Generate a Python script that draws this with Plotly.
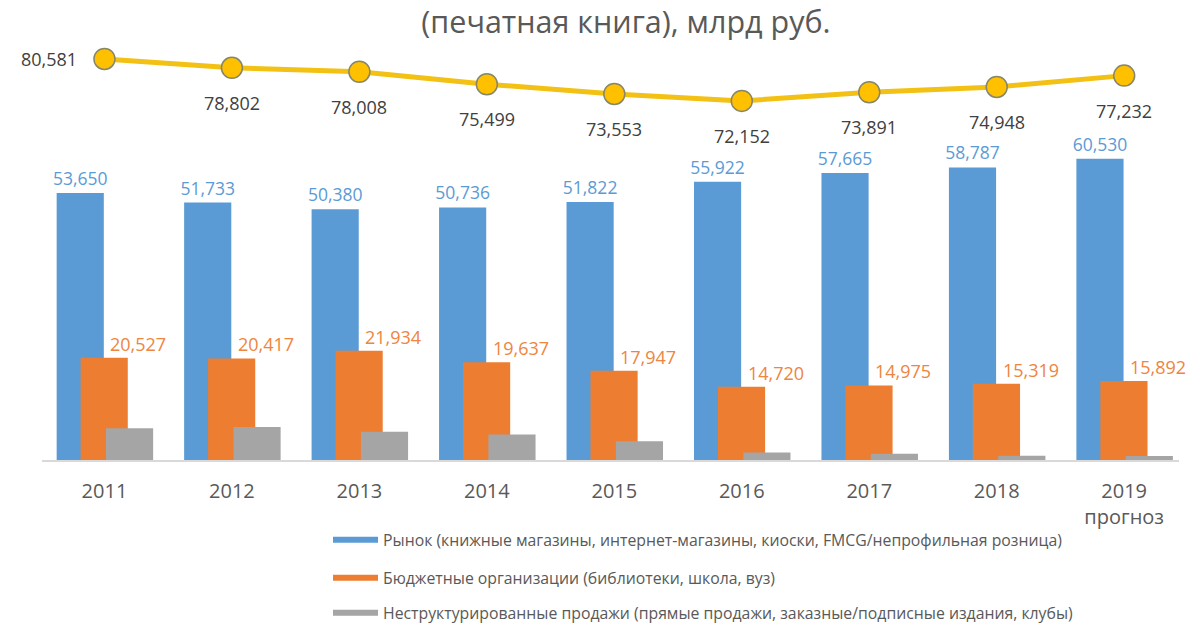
import plotly.graph_objects as go

# ---- data ----
years = ['2011', '2012', '2013', '2014', '2015', '2016', '2017', '2018', '2019']
tick_labels = ['2011', '2012', '2013', '2014', '2015', '2016', '2017', '2018', '2019<br>прогноз']
market = [53.650, 51.733, 50.380, 50.736, 51.822, 55.922, 57.665, 58.787, 60.530]
budget = [20.527, 20.417, 21.934, 19.637, 17.947, 14.720, 14.975, 15.319, 15.892]
unstructured = [6.40, 6.65, 5.69, 5.13, 3.78, 1.51, 1.25, 0.84, 0.81]
total = [80.581, 78.802, 78.008, 75.499, 73.553, 72.152, 73.891, 74.948, 77.232]
series_names = [
    'Рынок (книжные магазины, интернет-магазины, киоски, FMCG/непрофильная розница)',
    'Бюджетные организации (библиотеки, школа, вуз)',
    'Неструктурированные продажи (прямые продажи, заказные/подписные издания, клубы)',
]
title_text = '(печатная книга), млрд руб.'

# ---- styles ----
BLUE = '#5B9BD5'
ORANGE = '#ED7D31'
GRAY = '#A5A5A5'
GOLD = '#FFC000'
TXT = '#595959'
FONT = 'Open Sans'

# plot area geometry (px)
L, R, T, B = 42, 21, 10, 170
W, H = 1200, 630
PH = H - T - B
PW = W - L - R

bar_w = 0.37


def fmt(v):
    return f'{v:.3f}'.replace('.', ',')


fig = go.Figure()

fig.add_bar(x=years, y=market, width=bar_w, offset=-0.375,
            marker=dict(color=BLUE, line=dict(width=0)),
            texttemplate='%{y:.3f}', textposition='outside',
            textfont=dict(color=BLUE, size=17.5, family=FONT),
            constraintext='none', cliponaxis=False, showlegend=False,
            hoverinfo='skip')
fig.add_bar(x=years, y=budget, width=bar_w, offset=-0.187,
            marker=dict(color=ORANGE, line=dict(width=0)),
            showlegend=False, hoverinfo='skip')
fig.add_bar(x=years, y=unstructured, width=bar_w, offset=0.012,
            marker=dict(color=GRAY, line=dict(width=0)),
            showlegend=False, hoverinfo='skip')

# total line
fig.add_scatter(x=years, y=total, mode='lines+markers',
                line=dict(color='#F2C114', width=5),
                marker=dict(size=21, color=GOLD, line=dict(color='#86866A', width=1.5)),
                cliponaxis=False, showlegend=False, hoverinfo='skip')

annotations = []
# orange labels: upper right of the bar top
for i, v in enumerate(budget):
    annotations.append(dict(x=i, y=v, xref='x', yref='y', text=fmt(v), showarrow=False,
                            xanchor='left', yanchor='middle', xshift=4, yshift=14,
                            font=dict(size=18, color='#EE8540', family=FONT)))
# total labels
for i, v in enumerate(total):
    if i == 0:
        annotations.append(dict(x=i, y=v, xref='x', yref='y', text=fmt(v), showarrow=False,
                                xanchor='right', yanchor='middle', xshift=-25,
                                font=dict(size=18, color='#404040', family=FONT)))
    else:
        annotations.append(dict(x=i, y=v, xref='x', yref='y', text=fmt(v), showarrow=False,
                                xanchor='center', yanchor='middle', yshift=-35,
                                font=dict(size=18, color='#404040', family=FONT)))

# legend-only entries with wide flat swatches
legend_ids = ['legend', 'legend2', 'legend3']
for name, color, lid in zip(series_names, [BLUE, ORANGE, GRAY], legend_ids):
    fig.add_scatter(x=[None], y=[None], mode='lines', line=dict(color=color, width=6),
                    name=name, legend=lid, showlegend=True, hoverinfo='skip')


def px_to_paper_y(p):
    return (H - B - p) / PH


leg_common = dict(x=(328 - L) / PW, xanchor='left', yanchor='middle',
                  font=dict(size=15.8, color=TXT, family=FONT),
                  bgcolor='rgba(0,0,0,0)', itemwidth=45)

fig.update_layout(
    width=W, height=H,
    margin=dict(l=L, r=R, t=T, b=B, autoexpand=False),
    plot_bgcolor='white', paper_bgcolor='white',
    barmode='overlay',
    separators=',.',
    font=dict(family=FONT, color=TXT),
    title=dict(text=title_text, x=626 / W, xanchor='center', xref='container',
               y=1 - 22 / H, yanchor='middle', yref='container',
               font=dict(size=30.5, color=TXT, family=FONT)),
    xaxis=dict(type='category', range=[-0.49, 8.43], tickmode='array',
               tickvals=years, ticktext=tick_labels,
               tickfont=dict(size=20, color=TXT, family=FONT),
               showline=True, linecolor='#D9D9D9', linewidth=1.5,
               showgrid=False, ticks='', ticklabelstandoff=12, zeroline=False,
               automargin=False),
    yaxis=dict(range=[0, PH / 4.977], showticklabels=False, showgrid=False,
               zeroline=False, showline=False, ticks='', automargin=False),
    annotations=annotations,
    legend=dict(leg_common, y=px_to_paper_y(540)),
    legend2=dict(leg_common, y=px_to_paper_y(578)),
    legend3=dict(leg_common, y=px_to_paper_y(613)),
)

fig.write_html('out.html')
